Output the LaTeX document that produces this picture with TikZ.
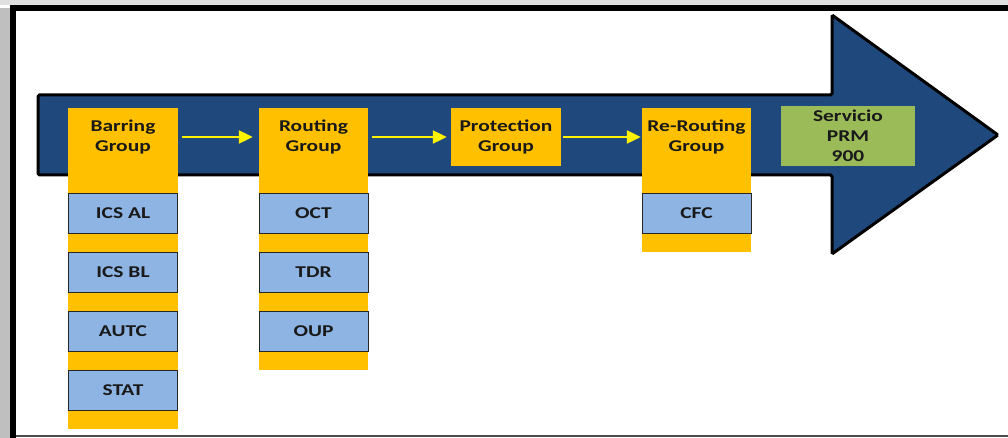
\documentclass[tikz,border=0pt]{standalone}
\usepackage{fontspec}
\setmainfont{Carlito}[FakeStretch=1.3]
\usetikzlibrary{arrows.meta}
\definecolor{navy}{HTML}{1F497D}
\definecolor{amber}{HTML}{FFC000}
\definecolor{paleblue}{HTML}{8EB4E3}
\definecolor{olive}{HTML}{9BBB59}
\tikzset{
  lbl/.style={font=\fontsize{16.5}{20}\selectfont\bfseries, text=black!90, align=center},
  head/.style={lbl, fill=amber, minimum width=110pt, minimum height=58pt, inner sep=0pt},
  sub/.style={lbl, fill=paleblue, draw=black!85, line width=0.9pt, minimum width=109pt, minimum height=40pt, inner sep=0pt},
  column/.style={fill=amber},
  flow/.style={yellow, line width=2.2pt, -{Triangle[length=14pt,width=13pt]}, shorten >=1pt},
  goal/.style={lbl, fill=olive, minimum width=134pt, minimum height=60pt, inner sep=0pt},
}
\begin{document}
\begin{tikzpicture}[x=1pt,y=-1pt]
  \useasboundingbox (0,0) rectangle (1008,438);
  % page background, shadow and frame
  \fill[white] (0,0) rectangle (1008,438);
  \fill[black!25] (0,8) rectangle (11,438);
  \fill[black!12] (0,0) rectangle (1008,5);
  \draw[black!70, line width=1.5pt] (13,436) -- (1008,436);
  \draw[black, line width=6pt] (13,438) -- (13,8) -- (1008,8);

  % big process arrow
  \draw[fill=navy, line width=3pt, line join=miter, rounded corners=1.5pt]
    (38,95) -- (832,95) -- (832,15) -- (998,135) -- (832,254) -- (832,175) -- (38,175) -- cycle;

  % group columns
  \fill[column] (68,108) rectangle (178,429);
  \fill[column] (259,108) rectangle (368,370);
  \fill[column] (642,108) rectangle (751,252);

  % group headers
  \node[head] (barring) at (123,137) {Barring\\Group};
  \node[head, minimum width=109pt] (routing) at (313.5,137) {Routing\\Group};
  \node[head] (protection) at (506,137) {Protection\\Group};
  \node[head, minimum width=109pt] (rerouting) at (696.5,137) {Re-Routing\\Group};
  \node[goal] (servicio) at (848,136) {Servicio\\PRM\\900};

  % members of each group
  \node[sub] (icsal) at (123,213) {ICS AL};
  \node[sub] (icsbl) at (123,272) {ICS BL};
  \node[sub] (autc) at (123,331) {AUTC};
  \node[sub] (stat) at (123,390) {STAT};
  \node[sub] (oct) at (313.5,213) {OCT};
  \node[sub] (tdr) at (313.5,272) {TDR};
  \node[sub] (oup) at (313.5,331) {OUP};
  \node[sub] (cfc) at (696.5,213) {CFC};

  % flow between groups
  \draw[flow] ([xshift=4pt]barring.east) -- ([xshift=-5pt]routing.west);
  \draw[flow] ([xshift=4pt]routing.east) -- ([xshift=-3pt]protection.west);
  \draw[flow] ([xshift=2pt]protection.east) -- ([xshift=0pt]rerouting.west);
\end{tikzpicture}
\end{document}
